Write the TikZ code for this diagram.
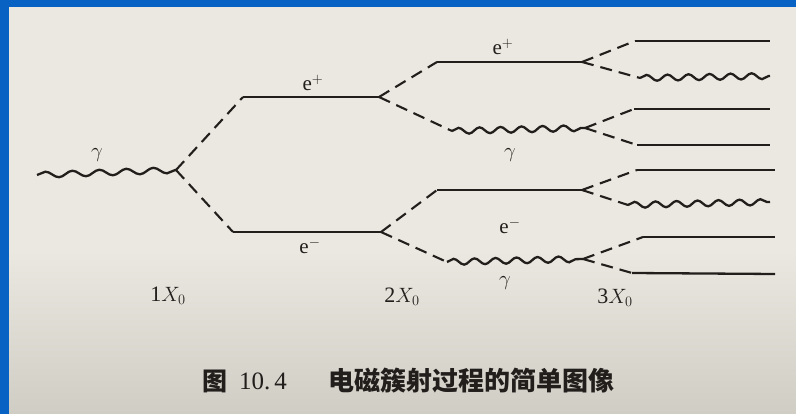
\documentclass[tikz,border=0pt]{standalone}
\usepackage{fontspec}
\setmainfont{Liberation Serif}
\newfontfamily\cjk{Noto Sans CJK SC}
\usetikzlibrary{decorations.pathmorphing}
\definecolor{ink}{RGB}{34,30,28}
\definecolor{page}{RGB}{234,232,224}
\definecolor{pagedark}{RGB}{208,205,197}
\definecolor{frame}{RGB}{8,98,196}
\begin{document}
\begin{tikzpicture}[x=1pt,y=-1pt,
  part/.style={line width=2.3pt, draw=ink},
  split/.style={line width=2.1pt, draw=ink, dash pattern=on 12pt off 7pt},
  photon/.style={line width=2.3pt, draw=ink, decorate, decoration={snake, amplitude=3pt, segment length=21pt}},
  lazyphoton/.style={photon, decoration={snake, amplitude=3pt, segment length=27pt}},
  lab/.style={font=\fontsize{21}{23}\selectfont, text=ink, inner sep=0pt},
  axis/.style={font=\fontsize{22}{24}\selectfont, text=ink, inner sep=0pt},
  captext/.style={text=ink, inner sep=0pt}
]
% background
\fill[frame] (0,0) rectangle (796,414);
\fill[page] (9,7) rectangle (796,250);
\shade[top color=page, bottom color=pagedark] (9,250) rectangle (796,414);
\useasboundingbox (0,0) rectangle (796,414);

% coordinates
\coordinate (g0) at (37,175);
\coordinate (v1) at (176,170);
\coordinate (p1) at (243,97);
\coordinate (v2p) at (379,97);
\coordinate (m1) at (233,232);
\coordinate (v2m) at (381,232);
\coordinate (p2) at (437,62);
\coordinate (v3a) at (582,62);
\coordinate (g2a) at (452,131);
\coordinate (v3b) at (585,128);
\coordinate (m2) at (437,190);
\coordinate (v3c) at (582,190);
\coordinate (g2b) at (447,262);
\coordinate (v3d) at (583,259);
% third generation
\coordinate (a1) at (635,41);  \coordinate (a1e) at (770,41);
\coordinate (a2) at (640,78);  \coordinate (a2e) at (770,76);
\coordinate (b1) at (634,109); \coordinate (b1e) at (770,109);
\coordinate (b2) at (637,145); \coordinate (b2e) at (770,145);
\coordinate (c1) at (637,170); \coordinate (c1e) at (775,170);
\coordinate (c2) at (628,205); \coordinate (c2e) at (770,202);
\coordinate (d1) at (643,237); \coordinate (d1e) at (775,237);
\coordinate (d2) at (632,273); \coordinate (d2e) at (775,274);

% first generation
\draw[lazyphoton] (g0) -- (v1);
\draw[split] (v1) -- (p1);
\draw[split] (v1) -- (m1);
\draw[part] (p1) -- (v2p);
\draw[part] (m1) -- (v2m);
% second generation
\draw[split] (v2p) -- (p2);
\draw[split] (v2p) -- (g2a);
\draw[split] (v2m) -- (m2);
\draw[split] (v2m) -- (g2b);
\draw[part] (p2) -- (v3a);
\draw[photon] (g2a) -- (v3b);
\draw[part] (m2) -- (v3c);
\draw[photon] (g2b) -- (v3d);
% third generation
\draw[split] (v3a) -- (a1); \draw[part] (a1) -- (a1e);
\draw[split] (v3a) -- (a2); \draw[photon] (a2) -- (a2e);
\draw[split] (v3b) -- (b1); \draw[part] (b1) -- (b1e);
\draw[split] (v3b) -- (b2); \draw[part] (b2) -- (b2e);
\draw[split] (v3c) -- (c1); \draw[part] (c1) -- (c1e);
\draw[split] (v3c) -- (c2); \draw[photon] (c2) -- (c2e);
\draw[split] (v3d) -- (d1); \draw[part] (d1) -- (d1e);
\draw[split] (v3d) -- (d2); \draw[part] (d2) -- (d2e);

% labels
\node[lab] (lg0) at (97,155) {$\gamma$};
\node[lab] (lp1) at (313,83) {e$^{+}$};
\node[lab] (lm1) at (310,246) {e$^{-}$};
\node[lab] (lp2) at (503,47) {e$^{+}$};
\node[lab] (lg2a) at (510,155) {$\gamma$};
\node[lab] (lm2) at (510,226) {e$^{-}$};
\node[lab] (lg2b) at (505,283) {$\gamma$};

\node[axis] (x1) at (168,296) {1$X_0$};
\node[axis] (x2) at (402,297) {2$X_0$};
\node[axis] (x3) at (615,298) {3$X_0$};

% caption
\node[captext, font=\fontsize{25}{27}\selectfont\cjk\bfseries] (c0) at (215,381) {图};
\node[captext, font=\fontsize{25}{27}\selectfont] (c1n) at (263,381) {10.\,4};
\node[captext, font=\fontsize{26}{28}\selectfont\cjk\bfseries] (c2n) at (471,381) {电磁簇射过程的简单图像};
\end{tikzpicture}
\end{document}
